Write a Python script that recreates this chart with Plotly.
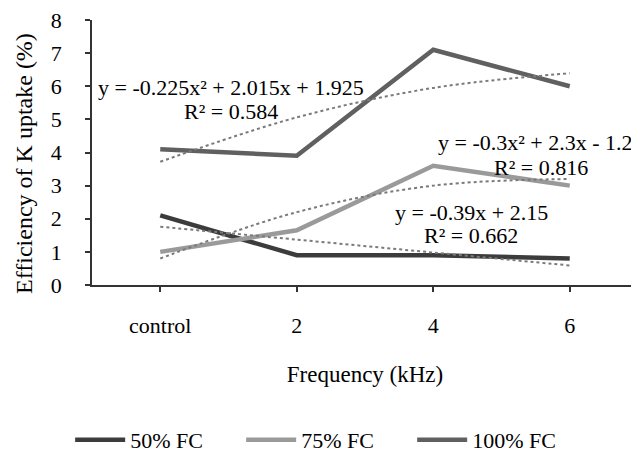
import plotly.graph_objects as go

categories = ["control", "2", "4", "6"]
fc50 = [2.1, 0.9, 0.9, 0.8]
fc75 = [1.0, 1.65, 3.6, 3.0]
fc100 = [4.1, 3.9, 7.1, 6.0]
trend50 = [1.76, 1.37, 0.98, 0.59]
trend75 = [0.80, 2.20, 3.00, 3.20]
trend100 = [3.72, 5.06, 5.95, 6.39]
y_ticks = [0, 1, 2, 3, 4, 5, 6, 7, 8]

FONT = "Liberation Serif, Times New Roman, Times, DejaVu Serif, serif"
xpos = list(range(len(categories)))

fig = go.Figure()
for name, vals, col in [("50% FC", fc50, "#3c3c3c"),
                        ("75% FC", fc75, "#9a9a9a"),
                        ("100% FC", fc100, "#606060")]:
    fig.add_trace(go.Scatter(x=xpos, y=vals, mode="lines", name=name,
                             line=dict(color=col, width=4.5)))
for vals in [trend100, trend75, trend50]:
    fig.add_trace(go.Scatter(x=xpos, y=vals, mode="lines", showlegend=False,
                             line=dict(color="#7a7a7a", width=2, dash="dot", shape="spline"),
                             hoverinfo="skip"))

tickvals = xpos + [3.5]
ticktext = categories + [""]
axfont = dict(family=FONT, size=22, color="black")

# page body has an 8px margin, so the figure is 8px smaller on each axis
fig.update_layout(
    template="none",
    width=631, height=447,
    margin=dict(l=84, r=1, t=12, b=170, autoexpand=False),
    paper_bgcolor="white", plot_bgcolor="white",
    font=dict(family=FONT, size=22, color="black"),
    xaxis=dict(range=[-0.5, 3.5], tickvals=tickvals, ticktext=ticktext, automargin=False,
               showline=True, linecolor="#333", linewidth=1.5,
               ticks="outside", ticklen=5, tickcolor="#333", tickwidth=1.5,
               showgrid=False, zeroline=False, tickfont=axfont,
               ticklabelstandoff=15, ticklabeloverflow="allow",
               title=dict(text="Frequency (kHz)", font=dict(family=FONT, size=23), standoff=29)),
    yaxis=dict(range=[0, 8], tickvals=y_ticks, automargin=False,
               showline=True, linecolor="#333", linewidth=1.5,
               ticks="outside", ticklen=5, tickcolor="#333", tickwidth=1.5,
               showgrid=False, zeroline=False, tickfont=axfont,
               ticklabelstandoff=19, ticklabeloverflow="allow"),
    xaxis2=dict(overlaying="x", anchor="y", range=[-0.5, 3.5], tickvals=tickvals, automargin=False,
                ticks="inside", ticklen=5, tickcolor="#333", tickwidth=1.5,
                showticklabels=False, showline=False, showgrid=False, zeroline=False),
    yaxis2=dict(overlaying="y", anchor="x", range=[0, 8], tickvals=y_ticks, automargin=False,
                ticks="inside", ticklen=7, tickcolor="#333", tickwidth=1.5,
                showticklabels=False, showline=False, showgrid=False, zeroline=False),
    legend=dict(orientation="h", x=-0.04, xanchor="left", y=-0.585, yanchor="middle",
                font=dict(family=FONT, size=22), entrywidth=106, itemwidth=50,
                bgcolor="rgba(0,0,0,0)"),
    showlegend=True,
)

# y-axis title
fig.add_annotation(x=-0.1245, y=0.457, xref="paper", yref="paper", textangle=-90,
                   xanchor="center", yanchor="middle", text="Efficiency of K uptake (%)",
                   showarrow=False, font=dict(family=FONT, size=24))

fig.add_annotation(x=0.52, y=5.95, xref="x", yref="y", text="y = -0.225x² + 2.015x + 1.925",
                   showarrow=False, font=dict(family=FONT, size=22))
fig.add_annotation(x=0.52, y=5.23, xref="x", yref="y", text="R² = 0.584",
                   showarrow=False, font=dict(family=FONT, size=22))
fig.add_annotation(x=3.48, y=4.29, xref="x", yref="y", xanchor="right", text="y = -0.3x² + 2.3x - 1.2",
                   showarrow=False, font=dict(family=FONT, size=22))
fig.add_annotation(x=2.79, y=3.56, xref="x", yref="y", text="R² = 0.816",
                   showarrow=False, font=dict(family=FONT, size=22))
fig.add_annotation(x=2.28, y=2.2, xref="x", yref="y", text="y = -0.39x + 2.15",
                   showarrow=False, font=dict(family=FONT, size=22))
fig.add_annotation(x=2.28, y=1.48, xref="x", yref="y", text="R² = 0.662",
                   showarrow=False, font=dict(family=FONT, size=22))

fig.write_html("out.html")
